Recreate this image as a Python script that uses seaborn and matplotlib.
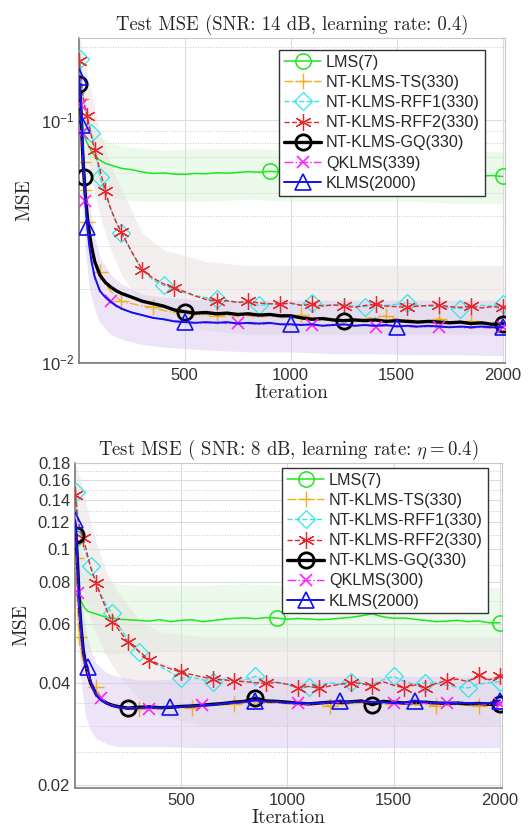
import numpy as np
import seaborn as sns
import matplotlib.pyplot as plt
from matplotlib.lines import Line2D
from matplotlib.ticker import FixedLocator, FixedFormatter, NullFormatter, LogLocator

sns.set_style("white")
plt.rcParams["font.family"] = ["Liberation Sans", "DejaVu Sans"]
plt.rcParams["mathtext.fontset"] = "custom"
plt.rcParams["mathtext.rm"] = "Liberation Sans"
plt.rcParams["mathtext.it"] = "Liberation Sans:italic"

# ---------------- data ----------------
iters = [1, 5, 10, 15, 20, 25, 30, 40, 50, 60, 75, 100, 125, 150, 175, 200, 250, 300, 350, 400, 450,
         500, 550, 600, 650, 700, 750, 800, 850, 900, 950,
         1000, 1050, 1100, 1150, 1200, 1250, 1300, 1350, 1400, 1450,
         1500, 1550, 1600, 1650, 1700, 1750, 1800, 1850, 1900, 1950, 2000]

band_iters = [1, 15, 30, 50, 75, 100, 150, 200, 300, 400, 600, 800, 1000, 1200, 1400, 1600, 1800, 2000]

labels_top = ["LMS(7)", "NT-KLMS-TS(330)", "NT-KLMS-RFF1(330)", "NT-KLMS-RFF2(330)",
              "NT-KLMS-GQ(330)", "QKLMS(339)", "KLMS(2000)"]
labels_bot = ["LMS(7)", "NT-KLMS-TS(330)", "NT-KLMS-RFF1(330)", "NT-KLMS-RFF2(330)",
              "NT-KLMS-GQ(330)", "QKLMS(300)", "KLMS(2000)"]

# top panel (SNR 14 dB)
top_lms = [0.140, 0.125, 0.110, 0.100, 0.093, 0.088, 0.084, 0.080, 0.077, 0.074, 0.071, 0.068, 0.066, 0.065, 0.064, 0.063, 0.0622, 0.0608, 0.0600, 0.0603, 0.0596,
           0.0595, 0.0600, 0.0598, 0.0604, 0.0601, 0.0606, 0.0610, 0.0607, 0.0612, 0.0609,
           0.0605, 0.0608, 0.0603, 0.0607, 0.0610, 0.0604, 0.0602, 0.0606, 0.0609, 0.0603,
           0.0600, 0.0604, 0.0601, 0.0598, 0.0600, 0.0596, 0.0592, 0.0590, 0.0586, 0.0588, 0.0583]
top_ts = [0.140, 0.132, 0.122, 0.090, 0.067, 0.0515, 0.046, 0.0377, 0.033, 0.030, 0.0265, 0.0235, 0.021, 0.0196, 0.0186, 0.0178, 0.0174, 0.0170, 0.0168, 0.0163, 0.0160,
          0.0158, 0.0156, 0.0157, 0.0155, 0.0156, 0.0154, 0.0155, 0.0153, 0.0155, 0.0153,
          0.0154, 0.0156, 0.0152, 0.0151, 0.0150, 0.0149, 0.0150, 0.0151, 0.0153, 0.0155,
          0.0150, 0.0149, 0.0148, 0.0147, 0.0151, 0.0147, 0.0146, 0.0147, 0.0145, 0.0144, 0.0144]
top_rff1 = [0.185, 0.178, 0.160, 0.140, 0.128, 0.118, 0.110, 0.100, 0.094, 0.088, 0.076, 0.058, 0.049, 0.043, 0.038, 0.034, 0.0283, 0.0238, 0.0218, 0.0207, 0.0200,
            0.0193, 0.0188, 0.0184, 0.0181, 0.0178, 0.0177, 0.0175, 0.0171, 0.0173, 0.0175,
            0.0174, 0.0172, 0.0175, 0.0172, 0.0171, 0.0173, 0.0170, 0.0169, 0.0172, 0.0171,
            0.0173, 0.0175, 0.0171, 0.0170, 0.0169, 0.0167, 0.0166, 0.0169, 0.0171, 0.0170, 0.0173]
top_rff2 = [0.175, 0.165, 0.150, 0.135, 0.125, 0.118, 0.112, 0.104, 0.094, 0.085, 0.075, 0.062, 0.051, 0.043, 0.038, 0.0345, 0.0285, 0.0240, 0.0222, 0.0210, 0.0202,
            0.0195, 0.0187, 0.0181, 0.0178, 0.0179, 0.0176, 0.0178, 0.0175, 0.0174, 0.0173,
            0.0175, 0.0171, 0.0173, 0.0170, 0.0172, 0.0170, 0.0168, 0.0171, 0.0173, 0.0170,
            0.0169, 0.0168, 0.0170, 0.0171, 0.0172, 0.0169, 0.0168, 0.0170, 0.0167, 0.0169, 0.0168]
top_gq = [0.140, 0.132, 0.110, 0.085, 0.068, 0.058, 0.050, 0.040, 0.034, 0.030, 0.026, 0.0228, 0.0213, 0.0204, 0.0197, 0.0192, 0.0185, 0.0178, 0.0174, 0.0170, 0.0164,
          0.0161, 0.0159, 0.0160, 0.0158, 0.0159, 0.0157, 0.0158, 0.0156, 0.0157, 0.0155,
          0.0155, 0.0152, 0.0150, 0.0151, 0.0149, 0.0148, 0.0149, 0.0148, 0.0149, 0.0147,
          0.0148, 0.0147, 0.0146, 0.0147, 0.0146, 0.0145, 0.0146, 0.0144, 0.0145, 0.0143, 0.0144]
top_qklms = [0.145, 0.130, 0.115, 0.088, 0.068, 0.056, 0.046, 0.036, 0.030, 0.026, 0.0222, 0.0197, 0.0186, 0.0178, 0.0172, 0.0167, 0.0160, 0.0156, 0.0152, 0.0150, 0.0148,
             0.0146, 0.0145, 0.0145, 0.0146, 0.0144, 0.0145, 0.0144, 0.0143, 0.0144, 0.0143,
             0.0142, 0.0143, 0.0142, 0.0141, 0.0143, 0.0142, 0.0141, 0.0142, 0.0140, 0.0141,
             0.0141, 0.0140, 0.0139, 0.0140, 0.0139, 0.0140, 0.0139, 0.0138, 0.0139, 0.0138, 0.0139]
top_klms = [0.150, 0.140, 0.115, 0.095, 0.075, 0.060, 0.048, 0.036, 0.030, 0.026, 0.0225, 0.0196, 0.0185, 0.0177, 0.0171, 0.0166, 0.0160, 0.0156, 0.0152, 0.0150, 0.0147,
            0.0146, 0.0145, 0.0146, 0.0145, 0.0146, 0.0144, 0.0145, 0.0144, 0.0145, 0.0143,
            0.0143, 0.0142, 0.0143, 0.0141, 0.0142, 0.0143, 0.0141, 0.0142, 0.0141, 0.0142,
            0.0140, 0.0141, 0.0140, 0.0141, 0.0140, 0.0139, 0.0140, 0.0139, 0.0140, 0.0139, 0.0139]

top_marks = [[1, 900, 2000],
             [10, 20, 25, 40, 100, 200, 350, 650, 1050, 1450, 1700, 1850],
             [5, 60, 100, 200, 400, 650, 850, 1100, 1350, 1550, 1800, 2000],
             [1, 40, 75, 125, 200, 300, 450, 650, 800, 950, 1100, 1250, 1400, 1550, 1700, 1850, 2000],
             [1, 25, 500, 1250, 2000],
             [10, 15, 30, 150, 750, 1100, 1400, 1700, 2000],
             [1, 15, 40, 500, 1000, 1500, 2000]]

top_lms_hi = [0.20, 0.15, 0.12, 0.10, 0.09, 0.085, 0.080, 0.078, 0.076, 0.075, 0.076, 0.076, 0.075, 0.076, 0.075, 0.075, 0.074, 0.074]
top_lms_lo = [0.10, 0.075, 0.062, 0.056, 0.052, 0.050, 0.048, 0.047, 0.046, 0.046, 0.046, 0.047, 0.046, 0.046, 0.046, 0.046, 0.045, 0.045]
top_rff_hi = [0.22, 0.20, 0.17, 0.14, 0.11, 0.090, 0.065, 0.052, 0.034, 0.029, 0.026, 0.025, 0.025, 0.025, 0.025, 0.025, 0.025, 0.025]
top_rff_lo = [0.13, 0.10, 0.08, 0.065, 0.050, 0.040, 0.029, 0.023, 0.017, 0.015, 0.0135, 0.013, 0.013, 0.013, 0.013, 0.013, 0.013, 0.013]
top_klms_hi = [0.20, 0.12, 0.07, 0.045, 0.033, 0.027, 0.023, 0.021, 0.019, 0.0185, 0.018, 0.018, 0.018, 0.018, 0.018, 0.018, 0.018, 0.018]
top_klms_lo = [0.10, 0.05, 0.030, 0.020, 0.0165, 0.0145, 0.0130, 0.0124, 0.0118, 0.0115, 0.0112, 0.011, 0.011, 0.0108, 0.0108, 0.0107, 0.0107, 0.0106]

# bottom panel (SNR 8 dB)
bot_lms = [0.108, 0.100, 0.088, 0.080, 0.075, 0.072, 0.070, 0.068, 0.0665, 0.0655, 0.065, 0.0643, 0.0635, 0.0628, 0.0625, 0.0620, 0.0618, 0.0615, 0.0612, 0.0618, 0.0610,
           0.0615, 0.0618, 0.0610, 0.0614, 0.0620, 0.0624, 0.0626, 0.0622, 0.0627, 0.0625,
           0.0620, 0.0623, 0.0621, 0.0618, 0.0620, 0.0624, 0.0628, 0.0635, 0.0643, 0.0630,
           0.0624, 0.0625, 0.0620, 0.0615, 0.0610, 0.0612, 0.0615, 0.0610, 0.0613, 0.0605, 0.0605]
bot_ts = [0.100, 0.094, 0.075, 0.062, 0.055, 0.052, 0.050, 0.046, 0.044, 0.042, 0.040, 0.0390, 0.0362, 0.0350, 0.0344, 0.0340, 0.0336, 0.0335, 0.0337, 0.0336, 0.0338,
          0.0340, 0.0339, 0.0342, 0.0344, 0.0346, 0.0348, 0.0351, 0.0350, 0.0349, 0.0350,
          0.0348, 0.0346, 0.0345, 0.0347, 0.0344, 0.0346, 0.0348, 0.0350, 0.0349, 0.0347,
          0.0346, 0.0347, 0.0345, 0.0346, 0.0344, 0.0345, 0.0346, 0.0344, 0.0343, 0.0345, 0.0344]
bot_rff1 = [0.152, 0.148, 0.135, 0.125, 0.118, 0.112, 0.108, 0.102, 0.098, 0.094, 0.089, 0.080, 0.073, 0.068, 0.0645, 0.060, 0.054, 0.0495, 0.047, 0.045, 0.0432,
            0.0414, 0.0418, 0.0410, 0.0405, 0.0412, 0.0407, 0.0410, 0.0420, 0.0408, 0.0402,
            0.0398, 0.0388, 0.0390, 0.0395, 0.0402, 0.0398, 0.0405, 0.0400, 0.0398, 0.0410,
            0.0420, 0.0405, 0.0398, 0.0402, 0.0400, 0.0395, 0.0390, 0.0388, 0.0398, 0.0402, 0.0405]
bot_rff2 = [0.145, 0.138, 0.128, 0.122, 0.118, 0.115, 0.112, 0.108, 0.102, 0.096, 0.088, 0.0793, 0.072, 0.066, 0.061, 0.0585, 0.053, 0.050, 0.047, 0.0455, 0.0442,
            0.0432, 0.0425, 0.0418, 0.0412, 0.0410, 0.0406, 0.0405, 0.0402, 0.0400, 0.0403,
            0.0398, 0.0388, 0.0392, 0.0387, 0.0393, 0.0398, 0.0402, 0.0400, 0.0392, 0.0405,
            0.0395, 0.0388, 0.0396, 0.0388, 0.0400, 0.0408, 0.0412, 0.0405, 0.0424, 0.0410, 0.0420]
bot_gq = [0.118, 0.110, 0.098, 0.085, 0.072, 0.064, 0.058, 0.050, 0.046, 0.043, 0.040, 0.0372, 0.0358, 0.0350, 0.0345, 0.0342, 0.0338, 0.0340, 0.0341, 0.0339, 0.0340,
          0.0342, 0.0343, 0.0345, 0.0347, 0.0349, 0.0352, 0.0354, 0.0362, 0.0355, 0.0354,
          0.0352, 0.0350, 0.0348, 0.0350, 0.0352, 0.0351, 0.0353, 0.0355, 0.0346, 0.0354,
          0.0352, 0.0350, 0.0351, 0.0352, 0.0350, 0.0349, 0.0350, 0.0348, 0.0349, 0.0347, 0.0348]
bot_qklms = [0.118, 0.110, 0.090, 0.074, 0.066, 0.060, 0.055, 0.049, 0.045, 0.043, 0.040, 0.0365, 0.0361, 0.0350, 0.0345, 0.0341, 0.0338, 0.0338, 0.0337, 0.0339, 0.0340,
             0.0341, 0.0342, 0.0345, 0.0346, 0.0348, 0.0350, 0.0352, 0.0354, 0.0353, 0.0352,
             0.0350, 0.0349, 0.0347, 0.0349, 0.0350, 0.0351, 0.0352, 0.0353, 0.0352, 0.0351,
             0.0349, 0.0348, 0.0350, 0.0349, 0.0348, 0.0350, 0.0351, 0.0349, 0.0348, 0.0347, 0.0348]
bot_klms = [0.122, 0.119, 0.100, 0.085, 0.072, 0.064, 0.058, 0.050, 0.046, 0.0449, 0.0405, 0.0370, 0.0356, 0.0349, 0.0343, 0.0340, 0.0337, 0.0338, 0.0340, 0.0339, 0.0340,
            0.0341, 0.0343, 0.0344, 0.0346, 0.0349, 0.0351, 0.0353, 0.0356, 0.0354, 0.0353,
            0.0351, 0.0350, 0.0349, 0.0350, 0.0352, 0.0356, 0.0352, 0.0354, 0.0353, 0.0352,
            0.0350, 0.0351, 0.0356, 0.0352, 0.0350, 0.0351, 0.0349, 0.0350, 0.0349, 0.0350, 0.0356]

bot_marks = [[1, 950, 2000],
             [5, 20, 100, 300, 550, 750, 1200, 1700, 1900],
             [5, 75, 175, 300, 500, 650, 850, 1100, 1300, 1500, 1650, 1850, 2000],
             [1, 40, 100, 175, 250, 350, 500, 650, 750, 900, 1050, 1150, 1300, 1400, 1550, 1650, 1750, 1900, 2000],
             [5, 250, 850, 1400, 2000],
             [15, 125, 350, 600, 1050, 1500, 1750, 2000],
             [1, 60, 450, 850, 1250, 1600, 2000]]

bot_lms_hi = [0.16, 0.12, 0.10, 0.09, 0.085, 0.082, 0.080, 0.079, 0.078, 0.078, 0.078, 0.079, 0.078, 0.078, 0.079, 0.078, 0.078, 0.077]
bot_lms_lo = [0.075, 0.058, 0.053, 0.051, 0.050, 0.050, 0.049, 0.049, 0.049, 0.050, 0.050, 0.050, 0.050, 0.050, 0.050, 0.050, 0.050, 0.050]
bot_rff_hi = [0.18, 0.17, 0.16, 0.14, 0.12, 0.105, 0.085, 0.075, 0.062, 0.057, 0.055, 0.055, 0.055, 0.055, 0.055, 0.055, 0.055, 0.055]
bot_rff_lo = [0.11, 0.09, 0.08, 0.07, 0.062, 0.056, 0.048, 0.043, 0.036, 0.032, 0.030, 0.030, 0.030, 0.030, 0.030, 0.030, 0.030, 0.030]
bot_klms_hi = [0.16, 0.11, 0.075, 0.058, 0.050, 0.046, 0.043, 0.042, 0.041, 0.041, 0.042, 0.042, 0.042, 0.042, 0.042, 0.042, 0.042, 0.042]
bot_klms_lo = [0.08, 0.055, 0.040, 0.032, 0.029, 0.0275, 0.0265, 0.026, 0.026, 0.026, 0.0258, 0.0258, 0.0258, 0.0258, 0.0258, 0.0258, 0.0258, 0.0258]

# ---------------- styling ----------------
colors = ["#1ee61e", "#edb120", "#33e6e6", "#e8262b", "#000000", "#ff22ff", "#1010f0"]
styles = ["-", "-.", "--", "--", "-", "-.", "-"]
widths = [1.1, 1.0, 1.0, 1.0, 2.4, 1.0, 1.4]
markers = ["o", "+", "D", (6, 2, 0), "o", "x", "^"]
msizes = [11, 12, 9, 12, 11, 9, 11]
mews = [1.1, 1.0, 0.9, 0.9, 2.0, 1.2, 1.2]

fig = plt.figure(figsize=(5.29, 8.4), dpi=100)
ax1 = fig.add_axes([0.1493, 0.5679, 0.805, 0.3869])
ax2 = fig.add_axes([0.1418, 0.0619, 0.807, 0.3869])


def draw_panel(ax, series, marks, bands, labels, ylim):
    band_cols = [("#c6f2c6", 0.35), ("#e8e0e0", 0.5), ("#d2c0ec", 0.4)]
    for (lo, hi), (c, a) in zip(bands, band_cols):
        ax.fill_between(band_iters, lo, hi, color=c, alpha=a, lw=0, zorder=1)
    for k, y in enumerate(series):
        idx = [iters.index(m) for m in marks[k]]
        sns.lineplot(x=iters, y=y, ax=ax, color=colors[k], linestyle=styles[k],
                     linewidth=widths[k], marker=markers[k], markersize=msizes[k],
                     markevery=idx, markerfacecolor="none", markeredgecolor=colors[k],
                     markeredgewidth=mews[k], legend=False, zorder=3 + k)
    ax.set_yscale("log")
    ax.set_xlim(1, 2010)
    ax.set_ylim(*ylim)
    ax.xaxis.set_major_locator(FixedLocator([500, 1000, 1500, 2000]))
    ax.grid(True, which="major", color="#dcdcdc", lw=0.8)
    ax.grid(True, which="minor", axis="y", color="#c8c8c8", lw=0.7, ls=":")
    ax.tick_params(which="both", direction="in", labelsize=12, colors="#333333")
    ax.tick_params(which="major", length=4, width=0.8)
    ax.tick_params(which="minor", length=2, width=0.6)
    for s in ["left", "bottom"]:
        ax.spines[s].set_color("#7a7a7a")
        ax.spines[s].set_linewidth(1.2)
    for s in ["top", "right"]:
        ax.spines[s].set_color("#c8c8c8")
        ax.spines[s].set_linewidth(0.8)
    ax.set_xlabel("Iteration", family="cmr10", fontsize=14, labelpad=1)
    ax.set_ylabel("MSE", family="cmr10", fontsize=14, labelpad=5)
    handles = [Line2D([0], [0], color=colors[k], ls=styles[k], lw=widths[k], marker=markers[k],
                      ms=msizes[k], mfc="none", mec=colors[k], mew=mews[k]) for k in range(7)]
    return handles


leg_kw = dict(loc="upper right", borderaxespad=0, fontsize=11.6, frameon=True, fancybox=False,
              framealpha=1, edgecolor="#333333", handlelength=2.3, handletextpad=0.3,
              labelspacing=0.32, borderpad=0.3)

h1 = draw_panel(ax1, [top_lms, top_ts, top_rff1, top_rff2, top_gq, top_qklms, top_klms], top_marks,
                [(top_lms_lo, top_lms_hi), (top_rff_lo, top_rff_hi), (top_klms_lo, top_klms_hi)],
                labels_top, (0.0099, 0.2175))
ax1.yaxis.set_major_locator(LogLocator(base=10))
ax1.yaxis.set_minor_locator(LogLocator(base=10, subs=np.arange(2, 10)))
ax1.yaxis.set_minor_formatter(NullFormatter())
ax1.set_title("Test MSE (SNR: 14 dB, learning rate: 0.4)", family="cmr10", fontsize=13.5, pad=6)
ax1.legend(h1, labels_top, bbox_to_anchor=(0.953, 0.963), **leg_kw)

h2 = draw_panel(ax2, [bot_lms, bot_ts, bot_rff1, bot_rff2, bot_gq, bot_qklms, bot_klms], bot_marks,
                [(bot_lms_lo, bot_lms_hi), (bot_rff_lo, bot_rff_hi), (bot_klms_lo, bot_klms_hi)],
                labels_bot, (0.0196, 0.18))
yt = [0.02, 0.04, 0.06, 0.08, 0.1, 0.12, 0.14, 0.16, 0.18]
ax2.yaxis.set_major_locator(FixedLocator(yt))
ax2.yaxis.set_major_formatter(FixedFormatter(["0.02", "0.04", "0.06", "0.08", "0.1", "0.12", "0.14", "0.16", "0.18"]))
ax2.yaxis.set_minor_locator(FixedLocator([0.025, 0.03, 0.035, 0.05, 0.07, 0.09, 0.11, 0.13, 0.15, 0.17]))
ax2.yaxis.set_minor_formatter(NullFormatter())
ax2.set_title(r"Test MSE ( SNR: 8 dB, learning rate: $\eta = 0.4$)", family="cmr10",
              math_fontfamily="cm", fontsize=13.5, pad=6)
ax2.legend(h2, labels_bot, bbox_to_anchor=(0.967, 0.985), **leg_kw)

fig.savefig("out.png", dpi=100)
